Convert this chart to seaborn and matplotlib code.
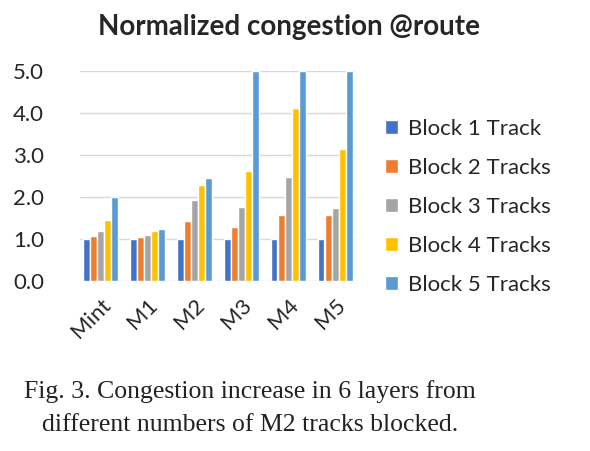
import matplotlib
matplotlib.use("Agg")
import matplotlib.pyplot as plt
import pandas as pd
import seaborn as sns
from matplotlib.ticker import FormatStrFormatter

layers = ["Mint", "M1", "M2", "M3", "M4", "M5"]
series = ["Block 1 Track", "Block 2 Tracks", "Block 3 Tracks",
          "Block 4 Tracks", "Block 5 Tracks"]
block1 = [1.0, 1.0, 1.0, 1.0, 1.0, 1.0]
block2 = [1.07, 1.05, 1.42, 1.29, 1.56, 1.58]
block3 = [1.2, 1.1, 1.93, 1.76, 2.48, 1.73]
block4 = [1.44, 1.2, 2.29, 2.63, 4.13, 3.15]
block5 = [2.0, 1.23, 2.46, 5.0, 5.0, 5.0]
colors = ["#4472C4", "#ED7D31", "#A5A5A5", "#FFC000", "#5B9BD5"]

rows = []
for name, vals in zip(series, [block1, block2, block3, block4, block5]):
    for layer, v in zip(layers, vals):
        rows.append({"Layer": layer, "Series": name, "Value": v})
df = pd.DataFrame(rows)

sns.set_style("white")
plt.rcParams["font.family"] = ["Lato", "DejaVu Sans"]

fig = plt.figure(figsize=(5.9, 4.51), dpi=100)
ax = fig.add_axes([0.1356, 0.377, 0.466, 0.4656])
sns.barplot(data=df, x="Layer", y="Value", hue="Series", palette=colors,
            width=0.76, gap=0.04, ax=ax, saturation=1)

ax.set_ylim(0, 5.0)
ax.set_xlim(-0.44, 5.42)
ax.set_yticks([0, 1, 2, 3, 4, 5])
ax.yaxis.set_major_formatter(FormatStrFormatter("%.1f"))
ax.yaxis.grid(True, color="#d9d9d9", linewidth=1)
ax.set_axisbelow(True)
for s in ax.spines.values():
    s.set_visible(False)
ax.set_xlabel("")
ax.set_ylabel("")
ax.tick_params(axis="y", length=0, pad=26, labelsize=16)
ax.tick_params(axis="x", length=0, pad=10, labelsize=16)
for lab in ax.get_xticklabels():
    lab.set_rotation(45)
    lab.set_ha("right")
    lab.set_rotation_mode("anchor")

ax.legend(loc="center left", bbox_to_anchor=(0.618, 0.541),
          bbox_transform=fig.transFigure, frameon=False,
          fontsize=16, handlelength=0.6, handleheight=0.6,
          handletextpad=0.45, labelspacing=0.85)

fig.text(0.49, 0.94, "Normalized congestion @route", ha="center",
         va="center", fontsize=20, fontweight="bold")

cap = {"family": ["Liberation Serif"], "fontsize": 18.5, "ha": "center",
       "va": "center", "color": "#222222"}
fig.text(0.424, 0.133, "Fig. 3. Congestion increase in 6 layers from", **cap)
fig.text(0.424, 0.057, "different numbers of M2 tracks blocked.", **cap)

fig.savefig("out.png", dpi=100)
plt.close(fig)
